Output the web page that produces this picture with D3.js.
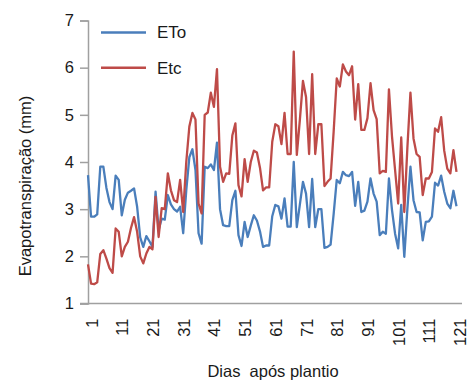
<!DOCTYPE html>
<html>
<head>
<meta charset="utf-8">
<script src="https://cdn.jsdelivr.net/npm/d3@7"></script>
<style>
  body { margin: 0; background: #fff; }
  svg { display: block; font-family: "Liberation Sans", Arial, sans-serif; }
</style>
</head>
<body>
<div id="chart"></div>
<script>
// dias após plantio 1..121
const days = d3.range(1, 122);

// ETo (mm)
const eto = [
  3.72, 2.84, 2.84, 2.89, 3.90, 3.90, 3.45, 3.15, 3.00, 3.71,
  3.62, 2.87, 3.20, 3.35, 3.39, 3.44, 3.05, 2.40, 2.20, 2.43,
  2.32, 2.20, 3.37, 2.56, 2.80, 2.78, 3.30, 3.10, 3.00, 2.95,
  3.05, 2.49, 3.40, 4.10, 4.27, 3.83, 2.49, 2.27, 3.90, 3.87,
  3.95, 3.83, 4.41, 3.00, 2.66, 2.64, 2.64, 3.19, 3.39, 2.45,
  2.22, 2.73, 2.41, 2.65, 2.87, 2.76, 2.53, 2.20, 2.23, 2.23,
  2.85, 3.09, 3.06, 2.80, 3.23, 2.63, 2.63, 4.00, 2.62, 3.10,
  3.58, 3.33, 2.62, 3.64, 2.62, 3.00, 3.00, 2.18, 2.20, 2.25,
  2.90, 3.62, 3.55, 3.79, 3.72, 3.70, 3.79, 3.07, 3.58, 2.94,
  2.97, 3.16, 3.65, 3.33, 3.16, 2.45, 2.52, 2.48, 3.65, 2.98,
  2.48, 2.17, 3.09, 1.99, 3.00, 3.90, 3.19, 2.94, 2.93, 2.34,
  2.73, 2.74, 2.84, 3.56, 3.50, 3.71, 3.37, 3.12, 3.02, 3.39,
  3.06
];

// Etc (mm)
const etc = [
  1.83, 1.42, 1.41, 1.45, 2.05, 2.13, 1.95, 1.75, 1.65, 2.59,
  2.52, 2.00, 2.20, 2.31, 2.60, 2.83, 2.52, 2.00, 1.85, 2.06,
  2.20, 2.15, 3.26, 2.41, 3.02, 3.00, 3.76, 3.40, 3.19, 3.15,
  3.62, 2.94, 4.00, 4.75, 5.04, 4.90, 3.12, 2.91, 5.00, 5.05,
  5.47, 5.17, 5.97, 3.90, 3.58, 3.76, 3.75, 4.56, 4.82, 3.51,
  3.27, 4.06, 3.58, 4.00, 4.24, 4.20, 3.88, 3.40, 3.46, 3.46,
  4.43, 4.80, 4.76, 4.38, 5.04, 4.17, 4.17, 6.34, 4.15, 4.90,
  5.72, 5.38, 4.17, 5.86, 4.17, 4.80, 4.80, 3.49, 3.58, 3.65,
  4.65, 5.77, 5.60, 6.07, 5.92, 5.84, 6.03, 4.90, 5.65, 4.68,
  4.68, 4.93, 5.67, 5.10, 4.91, 3.76, 3.81, 3.79, 5.54, 4.54,
  3.83, 3.12, 4.52, 2.94, 4.30, 5.47, 4.50, 4.17, 4.11, 3.30,
  3.65, 3.65, 3.79, 4.71, 4.64, 4.95, 4.24, 3.86, 3.76, 4.25,
  3.79
];

const yTicks = [1, 2, 3, 4, 5, 6, 7];
const xTicks = [1, 11, 21, 31, 41, 51, 61, 71, 81, 91, 101, 111, 121];

const series = [
  { name: "ETo", values: eto, color: "#4a7ebb" },
  { name: "Etc", values: etc, color: "#be4b48" }
];

const width = 470, height = 382;
const axisColor = "#a0a0a0";

const svg = d3.select("#chart").append("svg")
  .attr("width", width).attr("height", height);

const x = d3.scaleLinear().domain([1, 121]).range([88, 456.5]);
const y = d3.scaleLinear().domain([1, 7]).range([303.5, 20.5]);

// eixo Y
const yAxis = svg.append("g")
  .attr("transform", "translate(88,0)")
  .call(d3.axisLeft(y).tickValues(yTicks).tickSize(8).tickPadding(6).tickFormat(d3.format("d")));
yAxis.select(".domain").attr("stroke", axisColor).attr("stroke-width", 1.5);
yAxis.selectAll(".tick line").attr("stroke", axisColor).attr("stroke-width", 1.5);
yAxis.selectAll(".tick text")
  .attr("fill", "#1a1a1a").style("font-size", "16.5px")
  .attr("x", -14);

// eixo X
svg.append("line")
  .attr("x1", 80).attr("x2", 462)
  .attr("y1", y(1)).attr("y2", y(1))
  .attr("stroke", axisColor).attr("stroke-width", 1.5);

const xAxis = svg.append("g")
  .attr("transform", `translate(0,${y(1)})`)
  .call(d3.axisBottom(x).tickValues(xTicks).tickSize(0).tickFormat(d3.format("d")));
xAxis.select(".domain").remove();
xAxis.selectAll(".tick text")
  .attr("fill", "#1a1a1a").style("font-size", "16.5px")
  .attr("transform", "rotate(-90)")
  .attr("text-anchor", "end")
  .attr("x", -15).attr("y", 0).attr("dy", "0.55em");

// linhas
const line = d3.line()
  .x((d, i) => x(days[i]))
  .y(d => y(d));

svg.append("g").selectAll("path")
  .data(series)
  .join("path")
  .attr("fill", "none")
  .attr("stroke", d => d.color)
  .attr("stroke-width", 2.3)
  .attr("stroke-linejoin", "round")
  .attr("d", d => line(d.values));

// legenda
const legend = svg.append("g")
  .selectAll("g")
  .data(series)
  .join("g")
  .attr("transform", (d, i) => `translate(101,${32.5 + i * 35.3})`);
legend.append("line")
  .attr("x1", 0).attr("x2", 45)
  .attr("stroke", d => d.color).attr("stroke-width", 2.5);
legend.append("text")
  .attr("x", 56).attr("dy", "0.35em")
  .attr("fill", "#1a1a1a").style("font-size", "17px")
  .text(d => d.name);

// títulos
svg.append("text")
  .attr("transform", "translate(31,186) rotate(-90)")
  .attr("text-anchor", "middle")
  .attr("fill", "#1a1a1a").style("font-size", "16.5px")
  .text("Evapotranspiração (mm)");

svg.append("text")
  .attr("x", 273).attr("y", 377)
  .attr("text-anchor", "middle")
  .attr("fill", "#1a1a1a").style("font-size", "16.5px")
  .style("white-space", "pre")
  .attr("xml:space", "preserve")
  .text("Dias  após plantio");
</script>
</body>
</html>
